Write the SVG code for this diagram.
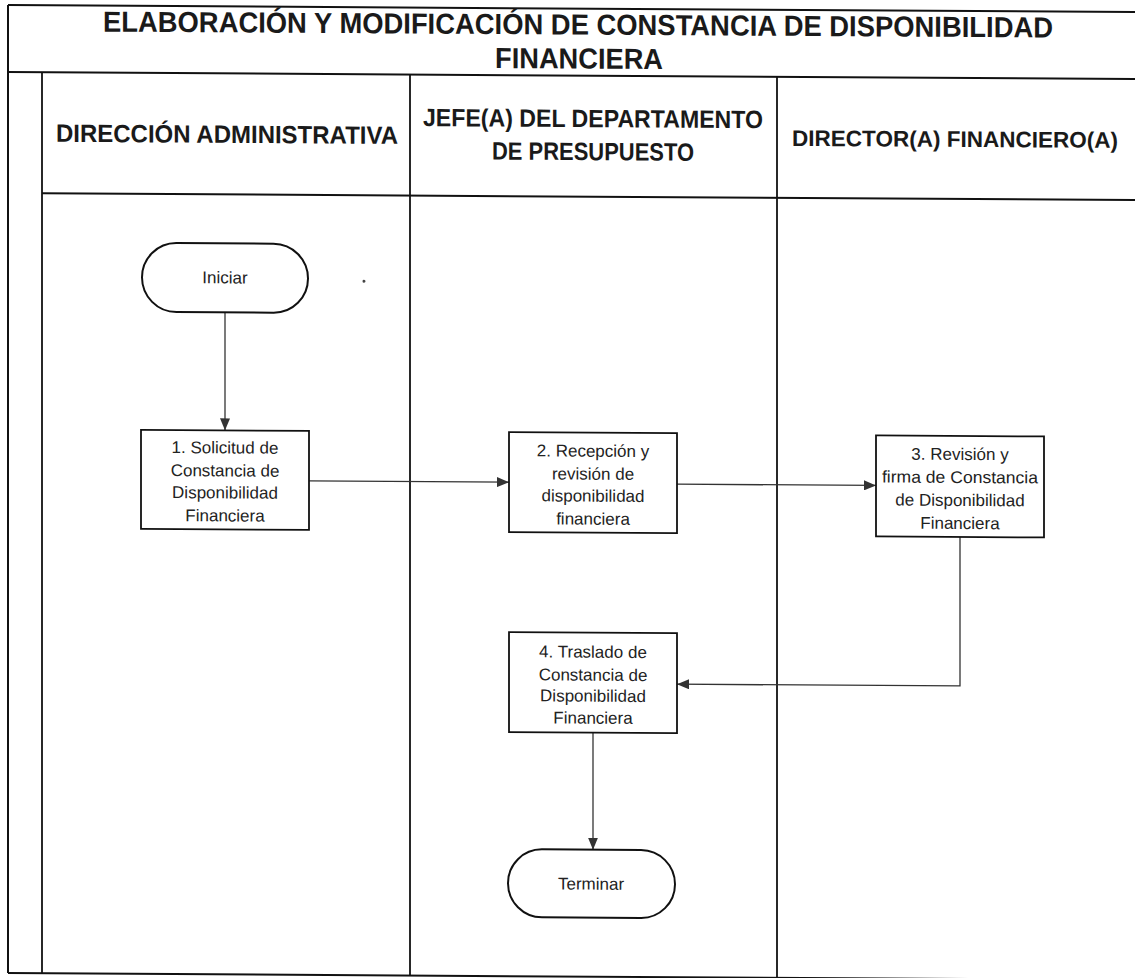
<svg xmlns="http://www.w3.org/2000/svg" width="1135" height="978" viewBox="0 0 1135 978">
<style>
.frame{stroke:#111;stroke-width:2;fill:none}
.lane{stroke:#111;stroke-width:1.8;fill:none}
.title{font-family:"Liberation Sans",Arial,sans-serif;font-weight:bold;font-size:29px;fill:#1a1a1a;text-anchor:middle}
.head{font-family:"Liberation Sans",Arial,sans-serif;font-weight:bold;font-size:25px;fill:#1a1a1a;text-anchor:middle}
.box{fill:#fff;stroke:#111;stroke-width:1.8}
.term{fill:#fff;stroke:#111;stroke-width:2}
.lbl{font-family:"Liberation Sans",Arial,sans-serif;font-size:17px;fill:#222;text-anchor:middle}
.conn{stroke:#333;stroke-width:1.3;fill:none}
</style>
<defs>
<marker id="arr" viewBox="0 0 12 10" refX="12" refY="5" markerWidth="12" markerHeight="10" markerUnits="userSpaceOnUse" orient="auto">
<path d="M0,0 L12,5 L0,10 z" fill="#333"/>
</marker>
</defs>
<rect width="1135" height="978" fill="#fff"/>
<g transform="skewY(0.355)">
<g id="frame">
<line class="frame" x1="8" y1="5" x2="1135" y2="5"/>
<line class="frame" x1="8" y1="72" x2="1135" y2="72"/>
<line class="frame" x1="42" y1="193" x2="1135" y2="193"/>
<line class="frame" x1="8" y1="973" x2="1135" y2="973"/>
<line class="frame" x1="8" y1="5" x2="8" y2="973"/>
<line class="lane" x1="42" y1="72" x2="42" y2="973"/>
<line class="lane" x1="410" y1="72" x2="410" y2="973"/>
<line class="lane" x1="777" y1="72" x2="777" y2="973"/>
<text class="title" x="578" y="31" textLength="950" lengthAdjust="spacingAndGlyphs">ELABORACIÓN Y MODIFICACIÓN DE CONSTANCIA DE DISPONIBILIDAD</text>
<text class="title" x="579" y="65" textLength="168" lengthAdjust="spacingAndGlyphs">FINANCIERA</text>
</g>
<g id="lane-headers">
<text class="head" x="227" y="141.5" textLength="342" lengthAdjust="spacingAndGlyphs">DIRECCIÓN ADMINISTRATIVA</text>
<text class="head" x="593" y="123.5" textLength="340" lengthAdjust="spacingAndGlyphs">JEFE(A) DEL DEPARTAMENTO</text>
<text class="head" x="593" y="156.5" textLength="202" lengthAdjust="spacingAndGlyphs">DE PRESUPUESTO</text>
<text class="head" x="955" y="141" style="font-size:22.5px" textLength="326" lengthAdjust="spacingAndGlyphs">DIRECTOR(A) FINANCIERO(A)</text>
</g>
<g id="connectors">
<line class="conn" x1="225" y1="311" x2="225" y2="429" marker-end="url(#arr)"/>
<line class="conn" x1="309" y1="479" x2="509" y2="479" marker-end="url(#arr)"/>
<line class="conn" x1="677" y1="480" x2="876" y2="480" marker-end="url(#arr)"/>
<polyline class="conn" points="960,530 960,680 677,680" marker-end="url(#arr)"/>
<line class="conn" x1="593" y1="729" x2="593" y2="846" marker-end="url(#arr)"/>
</g>
<g id="start">
<rect class="term" x="142" y="242" width="166" height="69" rx="34.5"/>
<text class="lbl" x="225" y="282">Iniciar</text>
</g>
<g id="step1">
<rect class="box" x="141" y="429" width="168" height="99"/>
<text class="lbl" x="225" y="452">1. Solicitud de</text>
<text class="lbl" x="225" y="475">Constancia de</text>
<text class="lbl" x="225" y="497">Disponibilidad</text>
<text class="lbl" x="225" y="520">Financiera</text>
</g>
<g id="step2">
<rect class="box" x="509" y="429" width="168" height="100"/>
<text class="lbl" x="593" y="453">2. Recepción y</text>
<text class="lbl" x="593" y="476">revisión de</text>
<text class="lbl" x="593" y="498">disponibilidad</text>
<text class="lbl" x="593" y="521">financiera</text>
</g>
<g id="step3">
<rect class="box" x="876" y="430" width="168" height="101"/>
<text class="lbl" x="960" y="454">3. Revisión y</text>
<text class="lbl" x="960" y="477" textLength="156" lengthAdjust="spacingAndGlyphs">firma de Constancia</text>
<text class="lbl" x="960" y="500">de Disponibilidad</text>
<text class="lbl" x="960" y="523">Financiera</text>
</g>
<g id="step4">
<rect class="box" x="509" y="629" width="168" height="100"/>
<text class="lbl" x="593" y="654">4. Traslado de</text>
<text class="lbl" x="593" y="677">Constancia de</text>
<text class="lbl" x="593" y="698">Disponibilidad</text>
<text class="lbl" x="593" y="720">Financiera</text>
</g>
<g id="end">
<rect class="term" x="508" y="846" width="167" height="68" rx="34"/>
<text class="lbl" x="591" y="886">Terminar</text>
</g>
<circle cx="364" cy="279" r="1.5" fill="#444"/>
</g>
</svg>
